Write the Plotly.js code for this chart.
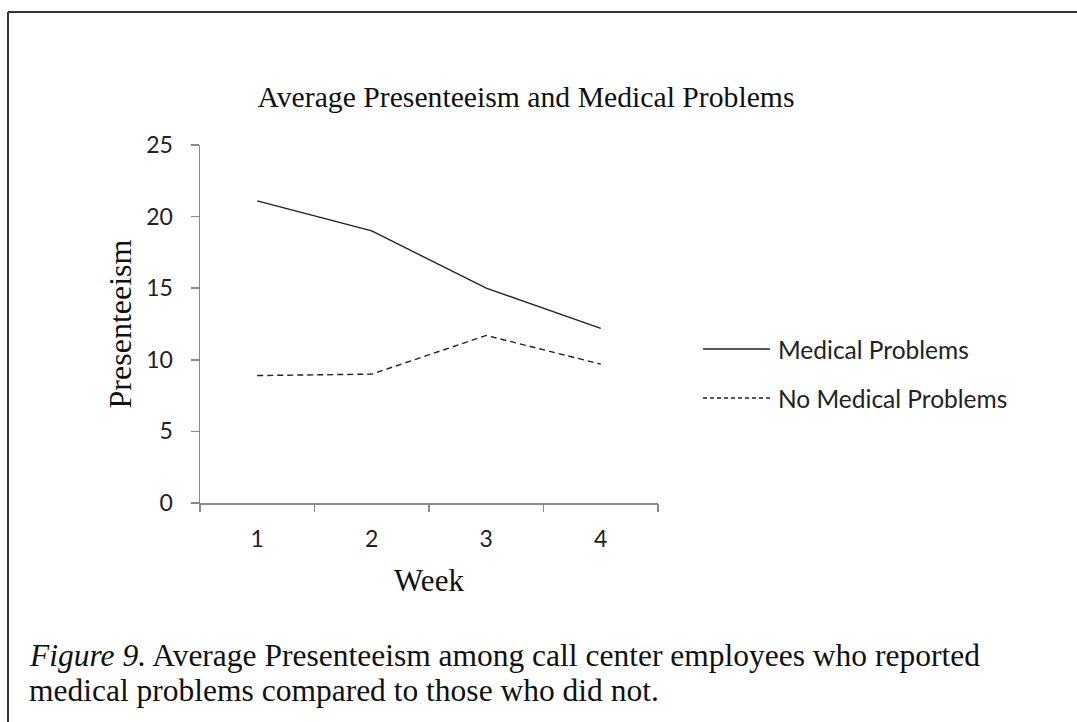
<!DOCTYPE html>
<html>
<head>
<meta charset="utf-8">
<script src="https://cdn.plot.ly/plotly-3.0.1.min.js"></script>
<style>
html,body{margin:0;padding:0;background:#fff;}
#chart{width:1077px;height:722px;}
</style>
</head>
<body>
<div id="chart"></div>
<script>
// ---- data ----
const weeks = [1, 2, 3, 4];
const weekLabels = ["1", "2", "3", "4"];
const medicalProblems = [21.1, 19.0, 15.0, 12.2];
const noMedicalProblems = [8.9, 9.0, 11.7, 9.7];
const seriesNames = ["Medical Problems", "No Medical Problems"];
const yTicks = [0, 5, 10, 15, 20, 25];
const captionLines = [
  "<i>Figure 9.</i> Average Presenteeism among call center employees who reported",
  "medical problems compared to those who did not."
];

// ---- layout geometry (pixels) ----
const W = 1077, H = 722;
const L = 200, R = 658, T = 145, B = 503;
const pw = R - L, ph = B - T;
const px = x => (x - L) / pw;
const py = y => (B - y) / ph;

const serif = "Liberation Serif, Times New Roman, serif";
const sans = "Lato, Carlito, Calibri, sans-serif";

const traces = [
  {x: weeks, y: medicalProblems, name: seriesNames[0], type: "scatter", mode: "lines",
   line: {color: "#222", width: 1.4}, showlegend: false, hoverinfo: "x+y"},
  {x: weeks, y: noMedicalProblems, name: seriesNames[1], type: "scatter", mode: "lines",
   line: {color: "#222", width: 1.4, dash: "6px,4px"}, showlegend: false, hoverinfo: "x+y"}
];

const legendY = [349, 398];
const shapes = [
  // figure frame
  {type: "line", xref: "paper", yref: "paper", x0: px(8), x1: px(W + 5), y0: py(12), y1: py(12), line: {color: "#333", width: 2}},
  {type: "line", xref: "paper", yref: "paper", x0: px(8), x1: px(8), y0: py(12), y1: py(H + 5), line: {color: "#333", width: 2}},
  // legend samples
  {type: "line", xref: "paper", yref: "paper", x0: px(703), x1: px(770), y0: py(legendY[0]), y1: py(legendY[0]), line: {color: "#222", width: 1.4}},
  {type: "line", xref: "paper", yref: "paper", x0: px(703), x1: px(770), y0: py(legendY[1]), y1: py(legendY[1]), line: {color: "#222", width: 1.4, dash: "4px,3px"}}
];

const annotations = [
  {text: seriesNames[0], xref: "paper", yref: "paper", x: px(776), y: py(legendY[0]), xanchor: "left", yanchor: "middle", showarrow: false, font: {family: sans, size: 24.5, color: "#222"}},
  {text: seriesNames[1], xref: "paper", yref: "paper", x: px(776), y: py(legendY[1]), xanchor: "left", yanchor: "middle", showarrow: false, font: {family: sans, size: 24.5, color: "#222"}},
  {text: captionLines[0], xref: "paper", yref: "paper", x: px(27), y: py(655), xanchor: "left", yanchor: "middle", align: "left", showarrow: false,
   font: {family: serif, size: 31.5, color: "#111"}},
  {text: captionLines[1], xref: "paper", yref: "paper", x: px(27), y: py(690), xanchor: "left", yanchor: "middle", align: "left", showarrow: false,
   font: {family: serif, size: 31.5, color: "#111"}}
];

const layout = {
  width: W, height: H,
  margin: {l: L, r: W - R, t: T, b: H - B, pad: 0},
  paper_bgcolor: "#fff", plot_bgcolor: "#fff",
  title: {text: "Average Presenteeism and Medical Problems", font: {family: serif, size: 29.7, color: "#111"},
          x: px(526), xanchor: "center", xref: "paper", y: 1 - 97 / H, yanchor: "middle"},
  xaxis: {
    range: [0.5, 4.5], tickmode: "array", tickvals: weeks, ticktext: weekLabels,
    showgrid: false, zeroline: false, showline: true, linecolor: "#888", linewidth: 1.5,
    ticks: "", tickfont: {family: sans, size: 23, color: "#222"}, ticklabelstandoff: 15,
    title: {text: "Week", font: {family: serif, size: 31, color: "#111"}, standoff: 18},
    fixedrange: true
  },
  xaxis2: {
    overlaying: "x", range: [0.5, 4.5], tickmode: "array", tickvals: [0.5, 1.5, 2.5, 3.5, 4.5],
    showticklabels: false, ticks: "outside", ticklen: 8, tickcolor: "#888", tickwidth: 1.5,
    showgrid: false, zeroline: false, showline: false, side: "bottom", anchor: "y"
  },
  yaxis: {
    range: [0, 25], tickmode: "array", tickvals: yTicks,
    showgrid: false, zeroline: false, showline: true, linecolor: "#888", linewidth: 1.5,
    ticks: "outside", ticklen: 8, tickcolor: "#888", tickwidth: 1.5,
    tickfont: {family: sans, size: 23, color: "#222"}, ticklabelstandoff: 13,
    title: {text: "Presenteeism", font: {family: serif, size: 32, color: "#111"}, standoff: 5},
    fixedrange: true
  },
  shapes: shapes,
  annotations: annotations,
  showlegend: false
};

// dummy trace to carry xaxis2 ticks
traces.push({x: [0.5], y: [null], xaxis: "x2", yaxis: "y", type: "scatter", mode: "lines", showlegend: false, hoverinfo: "skip"});

Plotly.newPlot("chart", traces, layout, {displayModeBar: false, staticPlot: true});
</script>
</body>
</html>
